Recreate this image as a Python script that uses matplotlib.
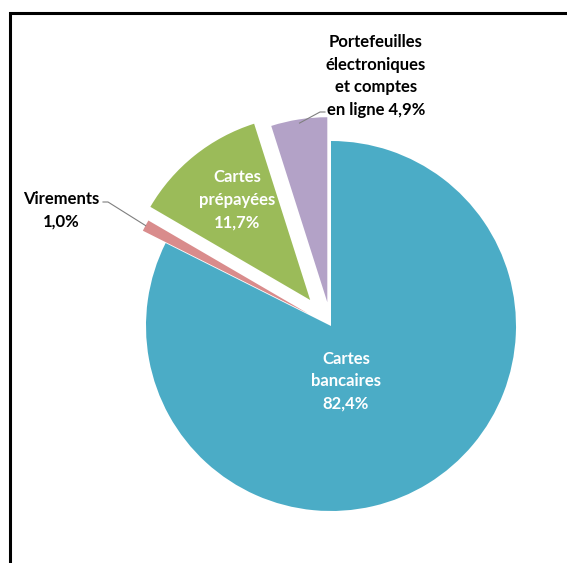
import matplotlib
matplotlib.use("Agg")
import matplotlib.pyplot as plt
import numpy as np

plt.rcParams['font.family'] = ['Lato', 'DejaVu Sans']

# parts of payments by instrument (%)
categories = ["Cartes bancaires", "Virements", "Cartes prépayées",
              "Portefeuilles électroniques et comptes en ligne"]
shares = [82.4, 1.0, 11.7, 4.9]
share_labels = ["82,4%", "1,0%", "11,7%", "4,9%"]
colors = ["#4bacc6", "#d98c8c", "#9bbb59", "#b3a2c7"]
explode = [0, 0.14, 0.18, 0.13]   # fraction of radius

W, H = 567, 563
fig = plt.figure(figsize=(W / 100, H / 100), dpi=100)
ax = fig.add_axes([0, 0, 1, 1])

cx, cy, r = 331, 237, 185
wedges, _ = ax.pie(shares, colors=colors, explode=[e * r for e in explode],
                   startangle=90, counterclock=False, center=(cx, cy), radius=r,
                   wedgeprops=dict(linewidth=0), frame=True)
ax.set_xlim(0, W)
ax.set_ylim(0, H)
ax.set_aspect('equal')
ax.axis('off')

# frame of the original chart area (left and top sides only visible)
ax.plot([10, 10, W + 5], [-5, 550, 550], color='black', lw=2.2,
        solid_joinstyle='miter', clip_on=False)

txt = dict(fontweight='bold', fontsize=12, ha='center', va='center',
           multialignment='center', linespacing=1.5)

ax.text(346, 182, "Cartes\nbancaires\n" + share_labels[0], color='white', **txt)
ax.text(237, 363, "Cartes\nprépayées\n" + share_labels[2], color='white', **txt)
ax.text(61, 353, "Virements\n" + share_labels[1], color='black', **txt)
ax.text(376, 487, "Portefeuilles\nélectroniques\net comptes\nen ligne " + share_labels[3],
        color='black', **txt)


def outer_point(w, frac=1.0):
    th = np.deg2rad((w.theta1 + w.theta2) / 2)
    return w.center[0] + w.r * frac * np.cos(th), w.center[1] + w.r * frac * np.sin(th)


# leader lines
px, py = outer_point(wedges[1])
ax.plot([103, 108, px], [361, 361, py], color='#7f7f7f', lw=0.8)
qx, qy = outer_point(wedges[3], 0.98)
ax.plot([325, 320, qx], [451, 451, qy], color='#7f7f7f', lw=0.8)

fig.savefig("out.png", dpi=100, facecolor='white')
